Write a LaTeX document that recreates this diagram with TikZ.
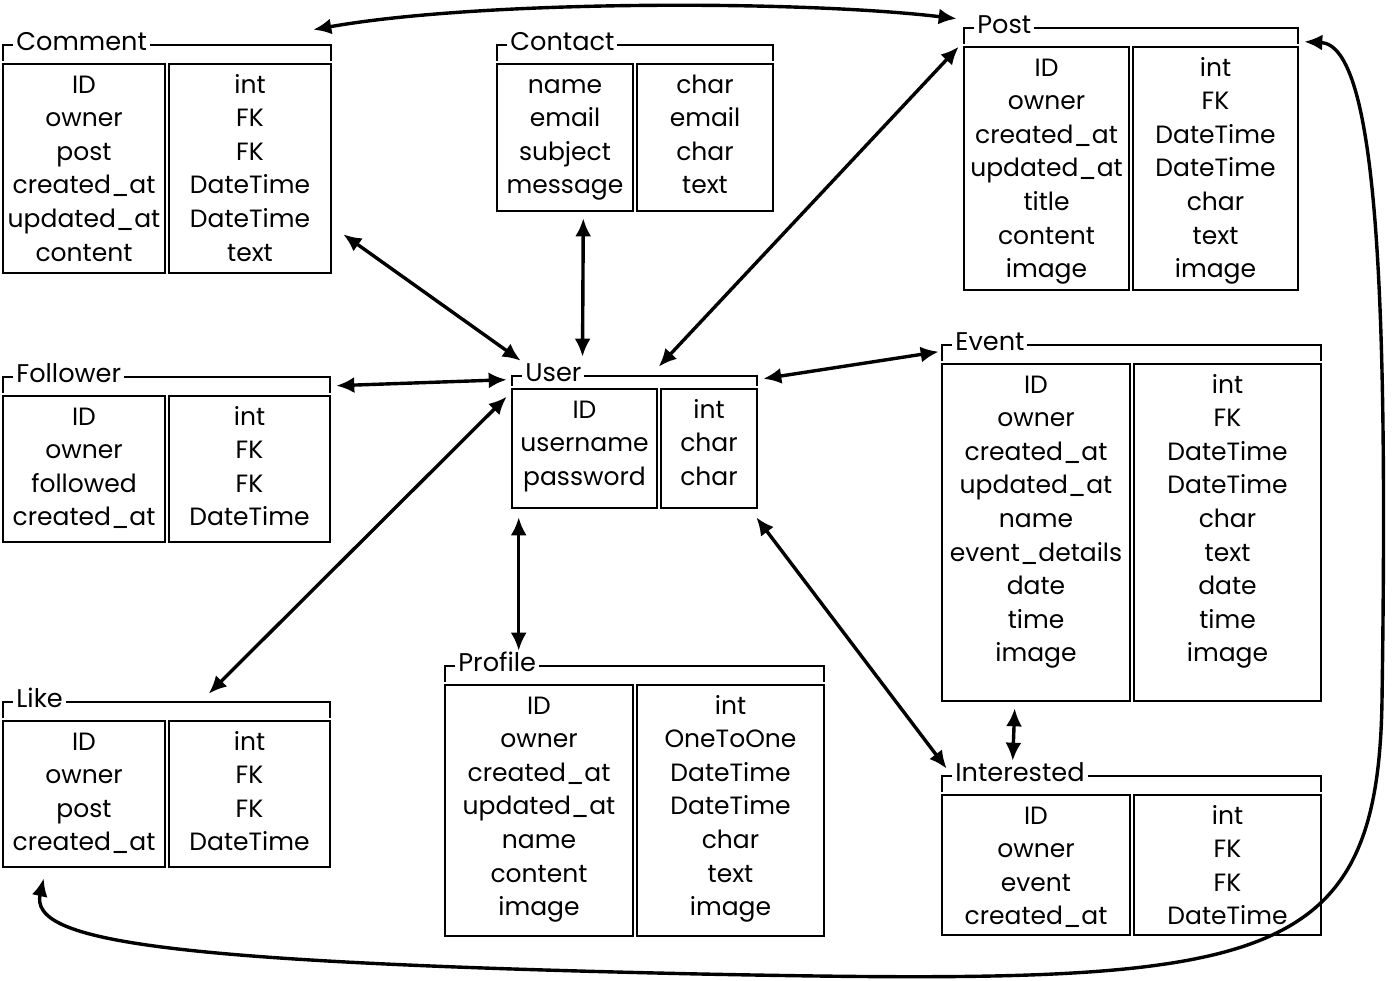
\documentclass[tikz,border=0pt]{standalone}
\usepackage{fontspec}
\setmainfont{Poppins}
\usetikzlibrary{arrows.meta,fit}

\tikzset{
  box/.style={draw, line width=1.3pt, inner sep=0pt},
  testata/.style={line width=1.3pt},
  cella/.style={anchor=base, inner sep=0pt, font=\fontsize{12.5}{16}\selectfont},
  titolo/.style={anchor=base west, fill=white, inner sep=1.5pt, font=\fontsize{12.8}{16}\selectfont},
  rel/.style={line width=1.7pt, {Latex[length=9pt,width=8pt]}-{Latex[length=9pt,width=8pt]}},
}

% ── Tabella: #1 nome, #2 titolo, #3 x sinistra, #4 x divisione, #5 x destra,
%    #6 y testata, #7 y fondo, #8 campi, #9 tipi ──
\def\hgap{19}
\newcommand{\entita}[9]{%
  \draw[testata] (#3,#6+\hgap-3) -- (#3,#6) -- (#5,#6) -- (#5,#6+\hgap-3);
  \node[box, fit={(#3,#6+\hgap) (#4,#7)}] (#1-l) {};
  \node[box, fit={(#4+4,#6+\hgap) (#5,#7)}] (#1-r) {};
  \node[titolo] (#1-t) at (#3+10,#6+5) {#2};
  \foreach \r [count=\i] in {#8}
    \node[cella] (#1-l\i) at ({(#3+#4)/2},{#6+\hgap+29+(\i-1)*33.6}) {\r};
  \foreach \r [count=\i] in {#9}
    \node[cella] (#1-r\i) at ({(#4+4+#5)/2},{#6+\hgap+29+(\i-1)*33.6}) {\r};
}

\begin{document}
\begin{tikzpicture}[x=0.5pt,y=-0.5pt]
  \useasboundingbox (0,0) rectangle (1392,980);

  % ===================== tabelle =====================
  \entita{comment}{Comment}{3}{165}{331}{45}{273}%
    {ID,owner,post,created\_at,updated\_at,content}%
    {int,FK,FK,DateTime,DateTime,text}
  \entita{contact}{Contact}{497}{633}{773}{45}{211}%
    {name,email,subject,message}%
    {char,email,char,text}
  \entita{post}{Post}{964}{1129}{1298}{28}{290}%
    {ID,owner,created\_at,updated\_at,title,content,image}%
    {int,FK,DateTime,DateTime,char,text,image}
  \entita{follower}{Follower}{3}{165}{330}{377}{542}%
    {ID,owner,followed,created\_at}%
    {int,FK,FK,DateTime}
  \def\hgap{13}
  \entita{user}{User}{512}{657}{757}{376}{508}%
    {ID,username,password}%
    {int,char,char}
  \def\hgap{19}
  \entita{event}{Event}{942}{1130}{1321}{345}{701}%
    {ID,owner,created\_at,updated\_at,name,event\_details,date,time,image}%
    {int,FK,DateTime,DateTime,char,text,date,time,image}
  \entita{like}{Like}{3}{165}{330}{702}{867}%
    {ID,owner,post,created\_at}%
    {int,FK,FK,DateTime}
  \entita{profile}{Profile}{445}{633}{824}{666}{936}%
    {ID,owner,created\_at,updated\_at,name,content,image}%
    {int,OneToOne,DateTime,DateTime,char,text,image}
  \entita{interested}{Interested}{942}{1130}{1321}{776}{935}%
    {ID,owner,event,created\_at}%
    {int,FK,FK,DateTime}

  % ===================== relazioni =====================
  \draw[rel] ([shift={(-19,-33)}]comment-r.north east) .. controls (480,0) and (800,0) .. ([shift={(-6,-27)}]post-l.north west);
  \draw[rel] ([shift={(11,-40)}]comment-r.south east) -- ([shift={(10,-27)}]user-l.north west);
  \draw[rel] ([shift={(-51,6)}]contact-l.south east) -- ([shift={(-2,-31)}]user-l.north);
  \draw[rel] ([shift={(-4,1)}]post-l.north west) -- ([shift={(-1,-21)}]user-r.north west);
  \draw[rel] ([shift={(5,-9)}]follower-r.north east) -- ([shift={(-4,-8)}]user-l.north west);
  \draw[rel] ([shift={(5,-9)}]user-r.north east) -- ([shift={(-2,-11)}]event-l.north west);
  \draw[rel] ([shift={(-4,9)}]user-l.north west) -- ([shift={(41,-26)}]like-r.north west);
  \draw[rel] ([shift={(8,8)}]user-l.south west) -- ([shift={(75,-33)}]profile-l.north west);
  \draw[rel] ([shift={(-2,8)}]user-r.south east) -- ([shift={(6,-25)}]interested-l.north west);
  \draw[rel] ([shift={(74,6)}]event-l.south west) -- ([shift={(72,-33)}]interested-l.north west);
  \draw[rel] ([shift={(42,10)}]like-l.south west) .. controls (30,940) and (150,962) .. (700,974)
    .. controls (1260,985) and (1378,975) .. (1382,700)
    .. controls (1388,300) and (1378,45) .. ([shift={(5,-4)}]post-r.north east);
\end{tikzpicture}
\end{document}
